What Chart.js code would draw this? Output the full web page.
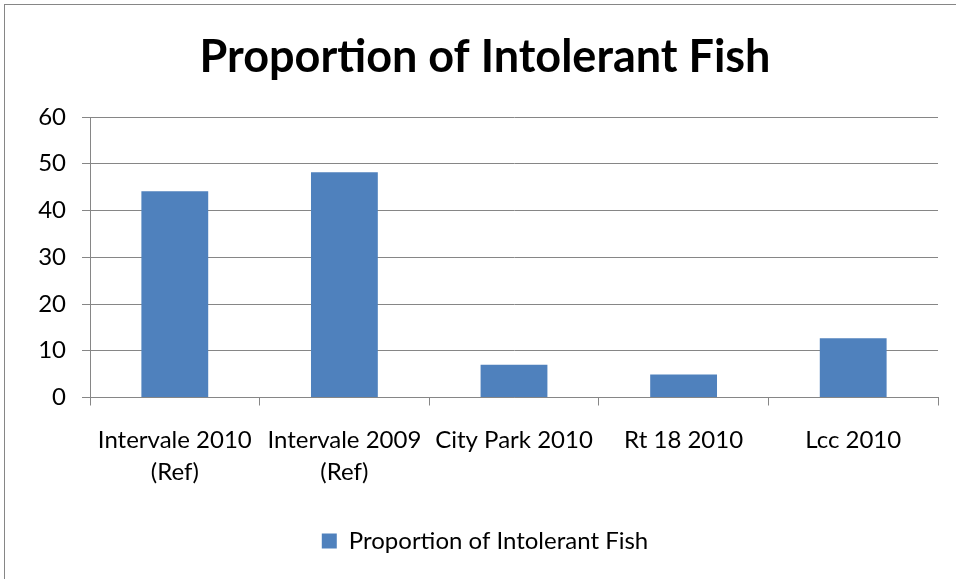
<!DOCTYPE html>
<html>
<head>
<meta charset="utf-8">
<script src="https://cdn.jsdelivr.net/npm/chart.js@4/dist/chart.umd.min.js"></script>
<style>
  html, body { margin: 0; padding: 0; background: #fff; overflow: hidden; }
  body { width: 956px; height: 579px; position: relative; }
  /* outer chart frame, only left and top edges fall inside the picture */
  .frame { position: absolute; left: 4px; top: 4px; width: 1000px; height: 1000px;
           border: 1px solid #868686; box-sizing: border-box; }
  .wrap { position: absolute; left: 0; top: 0; width: 956px; height: 579px; }
</style>
</head>
<body>
<div class="frame"></div>
<div class="wrap"><canvas id="chart"></canvas></div>
<script>
// ── Data ───────────────────────────────────────────────────────
const categories = [
  ["Intervale 2010", "(Ref)"],
  ["Intervale 2009", "(Ref)"],
  "City Park 2010",
  "Rt 18 2010",
  "Lcc 2010",
];
const seriesName = "Proportion of Intolerant Fish";
const seriesValues = [44.1, 48.2, 7.0, 4.9, 12.7];
const yTicks = [0, 10, 20, 30, 40, 50, 60];

// ── Style ──────────────────────────────────────────────────────
const FONT  = "Lato";
const GRID  = "#868686";
const BAR   = "#4F81BD";

new Chart(document.getElementById("chart"), {
  type: "bar",
  data: {
    labels: categories,
    datasets: [{
      label: seriesName,
      data: seriesValues,
      backgroundColor: BAR,
      borderWidth: 0,
      categoryPercentage: 1,
      barPercentage: 0.394,
    }],
  },
  options: {
    responsive: true, maintainAspectRatio: false, animation: false,
    // left padding shifts title/legend centre right; y axis width makes up the rest
    layout: { padding: { left: 32, right: 18, top: 0, bottom: 16 } },
    plugins: {
      tooltip: { enabled: false },
      title: {
        display: true, text: seriesName, color: "#000",
        font: { family: FONT, size: 45, weight: "bold" },
        padding: { top: 30, bottom: 33 },
      },
      legend: {
        position: "bottom",
        labels: {
          color: "#000", boxWidth: 15, boxHeight: 15, padding: 10,
          font: { family: FONT, size: 24 },
        },
      },
    },
    scales: {
      x: {
        grid: { display: true, drawOnChartArea: false, drawTicks: true, tickLength: 8, color: GRID, offset: true },
        border: { display: true, color: GRID, width: 1 },
        ticks: { color: "#000", padding: 19, maxRotation: 0, autoSkip: false,
                 font: { family: FONT, size: 24, lineHeight: 32 / 24 } },
        afterFit: s => { s.height = 121.5; },
      },
      y: {
        min: 0, max: 60,
        afterBuildTicks: s => { s.ticks = yTicks.map(v => ({ value: v })); },
        grid: { color: GRID, tickLength: 8 },
        border: { display: true, color: GRID, width: 1 },
        ticks: { color: "#000", padding: 16, font: { family: FONT, size: 24 } },
        afterFit: s => { s.width = 58; },
      },
    },
  },
});
</script>
</body>
</html>
